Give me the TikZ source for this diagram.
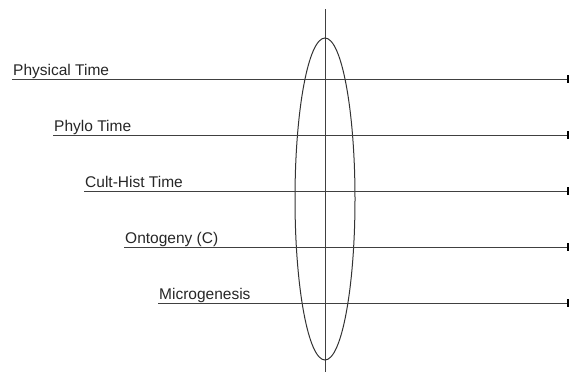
\documentclass[tikz,border=0pt]{standalone}
\usepackage{fontspec}
\setmainfont{Liberation Sans}
\usetikzlibrary{shapes.geometric}
\begin{document}
\begin{tikzpicture}[x=1pt,y=-1pt,
  axis/.style={draw=black!75,line width=1pt},
  lbl/.style={anchor=base west,inner sep=0pt,font=\fontsize{15.5}{17}\selectfont,text=black!85},
  endbar/.style={draw=black,line width=2.2pt}]
\useasboundingbox (0,0) rectangle (570,372);
% vertical axis and ellipse
\coordinate (vtop) at (325,9);
\coordinate (vbot) at (325,372);
\draw[axis] (vtop) -- (vbot);
\node[draw=black!80,line width=1pt,ellipse,minimum width=60pt,minimum height=322pt,inner sep=0pt] (lens) at (325,199) {};
% lines
\foreach \n/\x/\y/\t in {a/12/79/Physical Time, b/53/135/Phylo Time, c/84/191/Cult-Hist Time, d/124/247/Ontogeny (C), e/158/303/Microgenesis}{
  \coordinate (\n s) at (\x,\y);
  \coordinate (\n e) at (568,\y);
  \node[lbl] (\n l) at (\x+1,\y-3.5) {\t};
  \draw[axis] (\n s) -- (\n e);
  \draw[endbar] (568,\y-4) -- (568,\y+4);
}
\end{tikzpicture}
\end{document}
